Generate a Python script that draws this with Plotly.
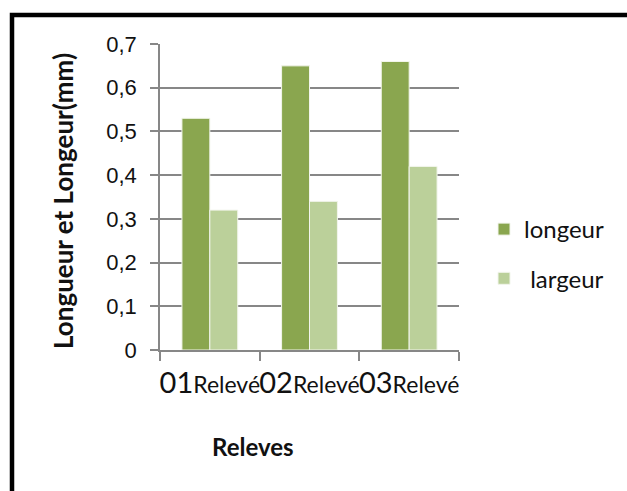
import plotly.graph_objects as go

# Mesures par relevé (mm)
releves = ["01Relevé", "02Relevé", "03Relevé"]
longeur = [0.53, 0.65, 0.66]
largeur = [0.32, 0.34, 0.42]

y_ticks = [0, 0.1, 0.2, 0.3, 0.4, 0.5, 0.6, 0.7]
y_tick_text = ["0", "0,1", "0,2", "0,3", "0,4", "0,5", "0,6", "0,7"]

GREEN_DARK = "#8AA64F"
GREEN_LIGHT = "#BBD09A"
GRID = "#878787"
LABEL_FONT = "Lato"

# Etiquettes de catégories : numéro en grand, mot en plus petit
x_tick_text = [
    f"{r[:2]}<span style='font-size:23px'>{r[2:]}</span>" for r in releves
]

W, H = 627, 491
L, R, T, B = 160, 168, 44, 141
pw, ph = W - L - R, H - T - B


def px_x(p):
    return (p - L) / pw


def px_y(p):
    return (H - B - p) / ph


fig = go.Figure()
fig.add_trace(go.Bar(
    x=releves, y=longeur, name="longeur",
    marker=dict(color=GREEN_DARK, line=dict(color="#F2F5EC", width=1)),
    legendgroup="a",
))
fig.add_trace(go.Bar(
    x=releves, y=largeur, name="\u00a0largeur",
    marker=dict(color=GREEN_LIGHT, line=dict(color="#F2F5EC", width=1)),
    legendgroup="b",
))

fig.update_layout(
    width=W, height=H,
    margin=dict(l=L, r=R, t=T, b=B, pad=0, autoexpand=False),
    paper_bgcolor="white", plot_bgcolor="white",
    barmode="group", bargap=0.44, bargroupgap=0,
    showlegend=True,
    legend=dict(
        x=px_x(484), y=px_y(207), xanchor="left", yanchor="top",
        font=dict(family=LABEL_FONT, size=24, color="#111"),
        tracegroupgap=15, itemwidth=30, bgcolor="rgba(0,0,0,0)",
    ),
    xaxis=dict(
        tickmode="array", tickvals=releves, ticktext=x_tick_text,
        tickfont=dict(family=LABEL_FONT, size=29, color="#111"),
        tickangle=0,
        showline=True, linecolor=GRID, linewidth=1.5,
        ticks="outside", ticklen=9, tickcolor=GRID, tickwidth=1.5,
        tickson="boundaries", showgrid=False, ticklabelstandoff=6,
    ),
    yaxis=dict(
        range=[0, 0.7], tickmode="array", tickvals=y_ticks, ticktext=y_tick_text,
        tickfont=dict(family="Liberation Sans", size=22, color="#111"),
        showline=True, linecolor=GRID, linewidth=1.5,
        ticks="outside", ticklen=8, tickcolor=GRID, tickwidth=1.5,
        showgrid=True, gridcolor=GRID, gridwidth=1.5, zeroline=False,
        ticklabelstandoff=9,
    ),
    annotations=[
        dict(text="<b>Longueur et Longeur(mm)</b>", textangle=-90,
             x=px_x(63), y=px_y(201), xref="paper", yref="paper",
             xanchor="center", yanchor="middle",
             showarrow=False, font=dict(family=LABEL_FONT, size=26, color="#111")),
        dict(text="<b>Releves</b>",
             x=px_x(253), y=px_y(446), xref="paper", yref="paper",
             xanchor="center", yanchor="middle",
             showarrow=False, font=dict(family=LABEL_FONT, size=24, color="#111")),
    ],
    shapes=[
        dict(type="rect", xref="paper", yref="paper",
             x0=px_x(12), y0=px_y(15), x1=px_x(720), y1=px_y(600),
             line=dict(color="black", width=4.5), layer="above"),
    ],
)

fig.write_html("out.html")
